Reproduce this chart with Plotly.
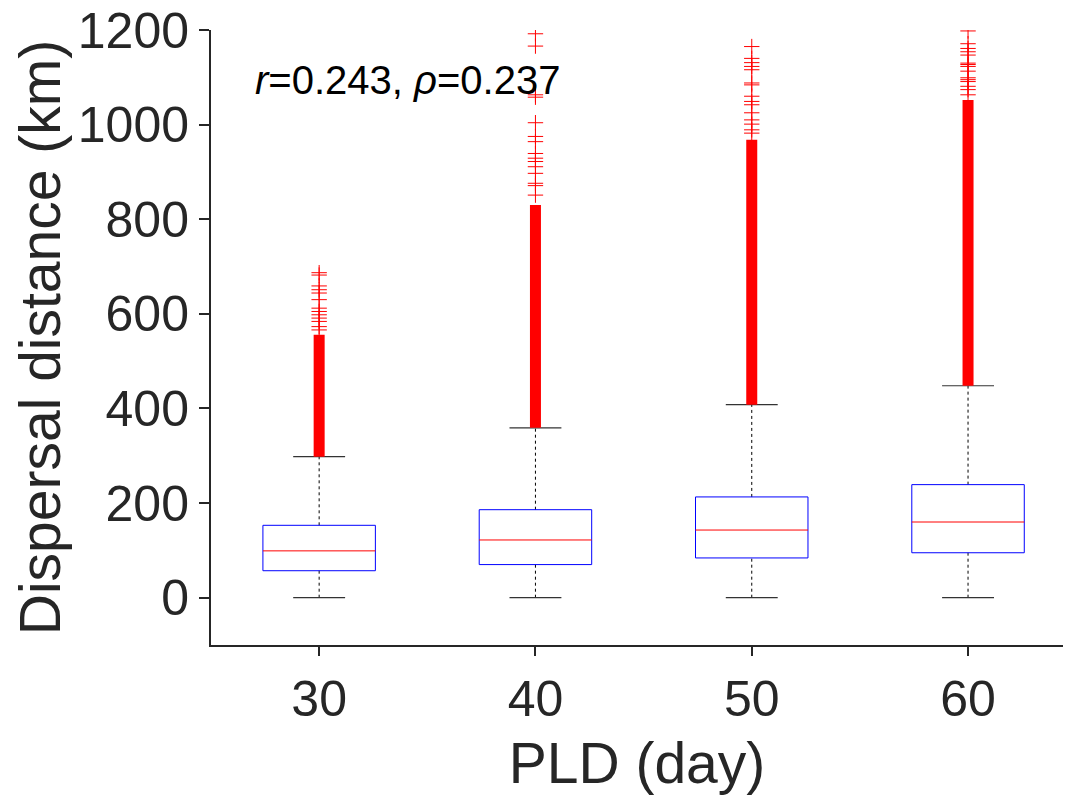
import plotly.graph_objects as go

# %% data
pld = [30, 40, 50, 60]
lower_whisker = [0, 0, 0, 0]
q1 = [57, 70, 84, 95]
median = [99, 122, 143, 160]
q3 = [153, 186, 213, 239]
upper_whisker = [298, 359, 408, 448]

# outliers: solid runs of '+' markers (start, end) and the sparse ones
band_pld = [30, 40, 50, 60]
band_lo = [298, 359, 408, 448]
band_hi = [556, 830, 968, 1052]

out_30 = [566, 573, 584, 591, 598, 605, 612, 630, 644, 651, 659, 682, 687]
out_40 = [851, 871, 876, 897, 911, 922, 929, 939, 964, 975, 1004, 1058, 1063, 1166, 1192]
out_50 = [982, 989, 1001, 1010, 1025, 1042, 1049, 1060, 1084, 1088, 1116, 1123, 1131, 1140, 1165]
out_60 = [1063, 1074, 1081, 1091, 1095, 1099, 1113, 1123, 1127, 1130, 1147, 1154, 1161, 1171, 1198]

r_text = "<i>r</i>=0.243, <i>ρ</i>=0.237"

# %% styling
BOX_HALF = 2.6
CAP_HALF = 1.2
FONT = "Liberation Sans, Arial, sans-serif"
AXIS_COL = "#262626"

fig = go.Figure()

# whiskers (dashed)
wx, wy = [], []
for p, lw, a, b, uw in zip(pld, lower_whisker, q1, q3, upper_whisker):
    wx += [p, p, None, p, p, None]
    wy += [lw, a, None, b, uw, None]
fig.add_trace(go.Scatter(x=wx, y=wy, mode="lines",
                         line=dict(color="black", width=1, dash="3px,3px")))

# whisker caps
cx, cy = [], []
for p, lw, uw in zip(pld, lower_whisker, upper_whisker):
    cx += [p - CAP_HALF, p + CAP_HALF, None, p - CAP_HALF, p + CAP_HALF, None]
    cy += [lw, lw, None, uw, uw, None]
fig.add_trace(go.Scatter(x=cx, y=cy, mode="lines",
                         line=dict(color="#333333", width=1.2)))

# boxes
bx, by = [], []
for p, a, b in zip(pld, q1, q3):
    bx += [p - BOX_HALF, p + BOX_HALF, p + BOX_HALF, p - BOX_HALF, p - BOX_HALF, None]
    by += [a, a, b, b, a, None]
fig.add_trace(go.Scatter(x=bx, y=by, mode="lines",
                         line=dict(color="#0000ff", width=1)))

# medians
mx, my = [], []
for p, m in zip(pld, median):
    mx += [p - BOX_HALF, p + BOX_HALF, None]
    my += [m, m, None]
fig.add_trace(go.Scatter(x=mx, y=my, mode="lines",
                         line=dict(color="#ff0000", width=1)))

# dense outlier runs
dx, dy = [], []
for p, lo, hi in zip(band_pld, band_lo, band_hi):
    dx += [p, p, None]
    dy += [lo, hi, None]
fig.add_trace(go.Scatter(x=dx, y=dy, mode="lines",
                         line=dict(color="#ff0000", width=11)))

# sparse outliers
ox, oy = [], []
for p, vals in zip(pld, [out_30, out_40, out_50, out_60]):
    ox += [p] * len(vals)
    oy += vals
fig.add_trace(go.Scatter(x=ox, y=oy, mode="markers",
                         marker=dict(symbol="cross-thin", size=11,
                                     line=dict(color="#ff0000", width=1))))

fig.add_annotation(x=26.95, y=1094, xref="x", yref="y", text=r_text,
                   showarrow=False, xanchor="left", yanchor="middle",
                   font=dict(family=FONT, size=40, color="black"))

# page body adds an 8px margin, so the figure is 16px smaller than the window
fig.update_layout(
    width=1055, height=787,
    margin=dict(l=203, r=0, t=22, b=150),
    plot_bgcolor="white", paper_bgcolor="white",
    showlegend=False,
    font=dict(family=FONT, color=AXIS_COL),
)
fig.update_xaxes(
    range=[25, 64.39], tickvals=pld, ticktext=[str(p) for p in pld],
    automargin=False,
    showgrid=False, zeroline=False, showline=True, linecolor=AXIS_COL, linewidth=2,
    ticks="outside", ticklen=9, tickwidth=2, tickcolor=AXIS_COL,
    tickfont=dict(size=50, family=FONT, color=AXIS_COL),
    title=dict(text="PLD (day)", font=dict(size=57, family=FONT, color=AXIS_COL), standoff=24),
)
fig.update_yaxes(
    range=[-100, 1200], tickvals=[0, 200, 400, 600, 800, 1000, 1200],
    automargin=False, ticklabeloverflow="allow",
    showgrid=False, zeroline=False, showline=True, linecolor=AXIS_COL, linewidth=2,
    ticks="outside", ticklen=10, tickwidth=2, tickcolor=AXIS_COL,
    tickfont=dict(size=50, family=FONT, color=AXIS_COL),
    title=dict(text="Dispersal distance (km)", font=dict(size=57, family=FONT, color=AXIS_COL), standoff=8),
)

fig.write_html("out.html")
